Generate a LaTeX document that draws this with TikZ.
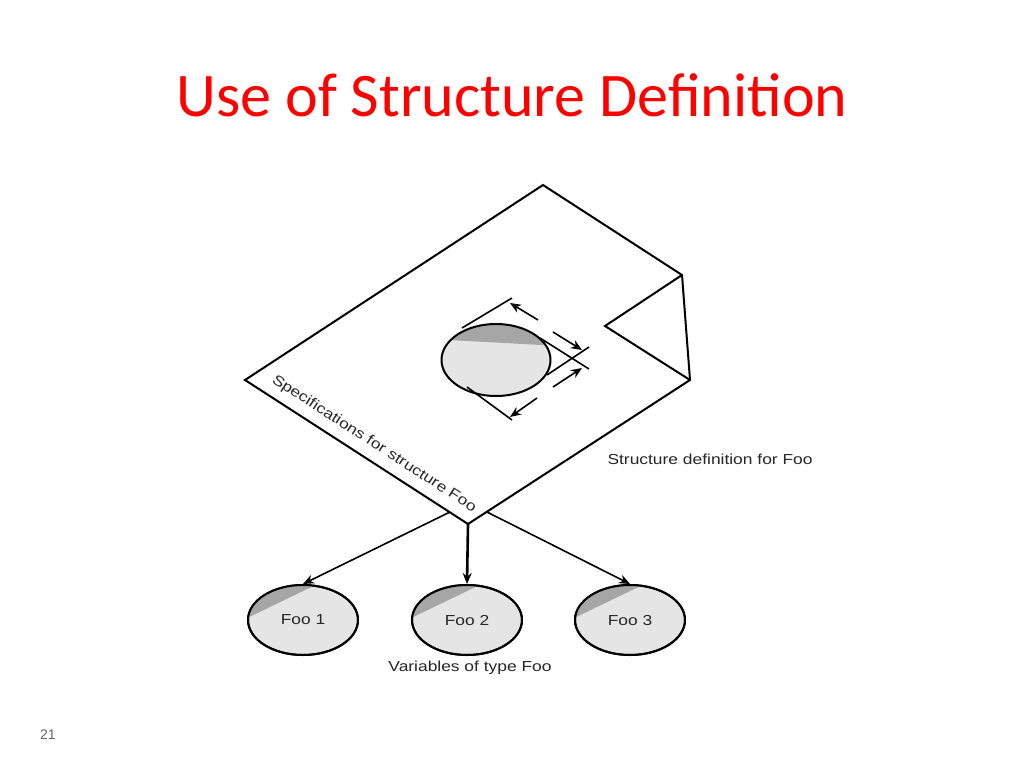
\documentclass[tikz,border=0pt]{standalone}
\usetikzlibrary{arrows.meta,shapes.geometric}
\usepackage{fontspec}
\setmainfont{Liberation Sans}
\newfontfamily\titlefont{Carlito}
\newfontfamily\labfont[FakeStretch=1.2]{Liberation Sans}
\begin{document}
\begin{tikzpicture}[x=1pt,y=-1pt,
  edge/.style={line width=2pt,line join=miter},
  thin/.style={line width=1.6pt},
  arr/.style={line width=1.6pt,-{Stealth[length=11pt,width=9pt]}},
  lbl/.style={font=\labfont\fontsize{14.5}{17}\selectfont,text=black!85},
  foo/.style={draw,line width=2pt,fill=black!10,ellipse,minimum width=110pt,minimum height=70pt}]
\useasboundingbox (0,0) rectangle (1024,768);
\node[text=red,font=\titlefont\fontsize{62}{68}\selectfont] (title) at (512,95) {Use of Structure Definition};
\node[text=black!60,font=\fontsize{14}{16}\selectfont] (pg) at (48,735) {21};
% sheet
\coordinate (L) at (245,380); \coordinate (T) at (543,185); \coordinate (R) at (682,275);
\coordinate (V) at (605,326); \coordinate (RB) at (690,380); \coordinate (B) at (468,524);
\draw[edge] (B) -- (L) -- (T) -- (R) -- (RB) -- (B);
\draw[edge] (R) -- (V) -- (RB);
% circle
\begin{scope}
\clip (496,360) ellipse [x radius=54.5, y radius=36];
\fill[black!10] (496,360) ellipse [x radius=54.5, y radius=36];
\fill[black!35] (430,300) -- (560,300) -- (560,346) -- (430,339) -- cycle;
\end{scope}
\draw[line width=2pt] (496,360) ellipse [x radius=54.5, y radius=36];
% dimension lines
\coordinate (e1a) at (462,328); \coordinate (e1b) at (512,298);
\coordinate (e2a) at (467,387); \coordinate (e2b) at (512,420);
\coordinate (e3a) at (540,338); \coordinate (e3b) at (589,369);
\coordinate (e4a) at (547,375); \coordinate (e4b) at (589,347);
\draw[thin] (e1a)--(e1b); \draw[thin] (e2a)--(e2b);
\draw[thin] (e3a)--(e3b); \draw[thin] (e4a)--(e4b);
\coordinate (a1s) at (538,320); \coordinate (a1e) at (510,303);
\coordinate (a2s) at (553,332); \coordinate (a2e) at (582,350);
\coordinate (a3s) at (553,387); \coordinate (a3e) at (582,368);
\coordinate (a4s) at (537,398); \coordinate (a4e) at (510,417);
\draw[arr] (a1s)--(a1e); \draw[arr] (a2s)--(a2e);
\draw[arr] (a3s)--(a3e); \draw[arr] (a4s)--(a4e);
% labels
\node[lbl,rotate=-32.9] (spec) at (374,444) {Specifications for structure Foo};
\node[lbl,anchor=west] (sdef) at (604,459) {Structure definition for Foo};
% variables
\node[foo] (f1) at (303,620) {};
\node[foo] (f2) at (467,620) {};
\node[foo] (f3) at (630,620) {};
\foreach \n in {f1,f2,f3}{
  \begin{scope}
  \clip (\n.center) ellipse [x radius=55, y radius=35];
  \fill[black!35] ([shift={(-60,0)}]\n.center) -- ([shift={(27,-42)}]\n.center) -- ([shift={(-60,-42)}]\n.center) -- cycle;
  \end{scope}
  \draw[line width=2pt] (\n.center) ellipse [x radius=55, y radius=35];
}
\node[lbl] at (f1) {Foo 1};
\node[lbl] at (f2) {Foo 2};
\node[lbl] at (f3) {Foo 3};
\node[lbl] (vars) at (470,668) {Variables of type Foo};
\coordinate (s1) at (450,512); \coordinate (s3) at (487,512);
\draw[arr] (s1) -- (f1.north);
\draw[arr,line width=2.6pt] (B) -- (f2.north);
\draw[arr] (s3) -- (f3.north);
\end{tikzpicture}
\end{document}
